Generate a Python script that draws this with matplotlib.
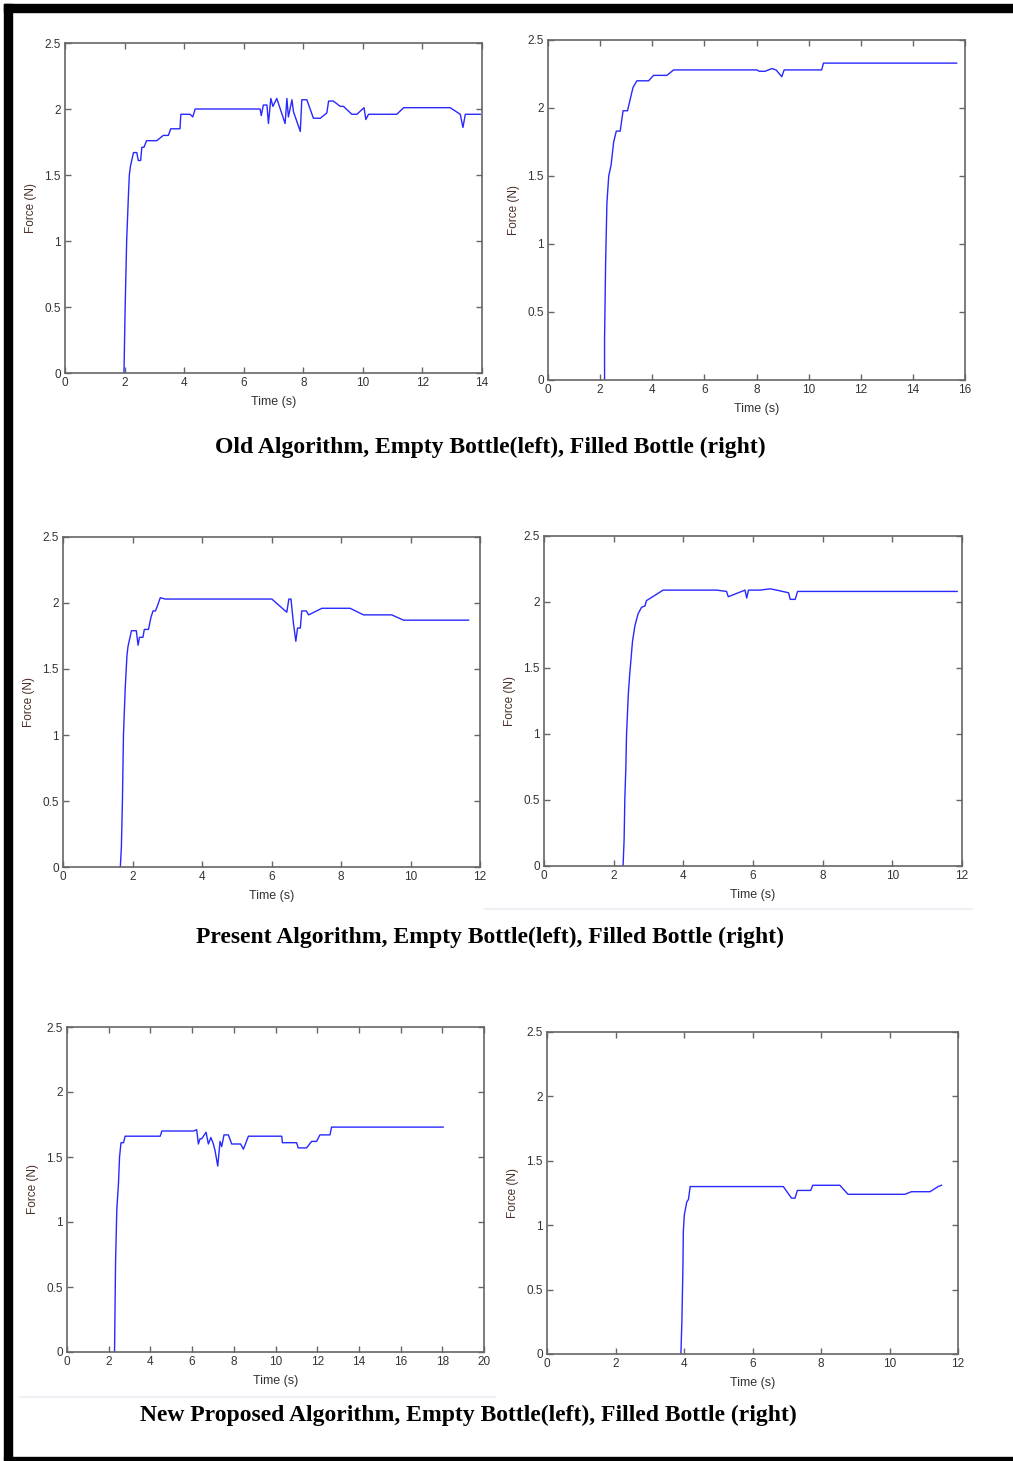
import matplotlib
matplotlib.use("Agg")
import matplotlib.pyplot as plt
from matplotlib.patches import Rectangle
from matplotlib.lines import Line2D

# force traces (time in s, force in N)
old_empty_t = [1.98, 2.02, 2.07, 2.13, 2.16, 2.2, 2.3, 2.41, 2.46, 2.54, 2.58, 2.65, 2.74,
               3.08, 3.3, 3.47, 3.55, 3.86, 3.89, 4.2, 4.29, 4.37, 6.55, 6.59, 6.66, 6.78,
               6.83, 6.91, 6.98, 7.11, 7.39, 7.45, 7.5, 7.62, 7.67, 7.9, 7.95, 8.12, 8.34,
               8.57, 8.79, 8.85, 9.01, 9.24, 9.35, 9.63, 9.8, 10.04, 10.1, 10.19, 11.14,
               11.37, 12.93, 13.27, 13.36, 13.44, 13.94]
old_empty_f = [0.0, 0.5, 1.0, 1.35, 1.5, 1.57, 1.67, 1.67, 1.61, 1.61, 1.71, 1.71, 1.76,
               1.76, 1.8, 1.8, 1.85, 1.85, 1.96, 1.96, 1.94, 2.0, 2.0, 1.95, 2.03, 2.03,
               1.89, 2.08, 2.02, 2.08, 1.89, 2.08, 1.94, 2.07, 1.98, 1.83, 2.07, 2.07, 1.93,
               1.93, 1.97, 2.06, 2.06, 2.02, 2.02, 1.96, 1.96, 2.01, 1.92, 1.96, 1.96,
               2.01, 2.01, 1.96, 1.86, 1.96, 1.96]

old_filled_t = [2.17, 2.17, 2.21, 2.26, 2.33, 2.42, 2.52, 2.62, 2.77, 2.88, 3.05, 3.26, 3.41,
                3.86, 4.05, 4.56, 4.82, 8.01, 8.11, 8.33, 8.59, 8.75, 8.97, 9.06, 10.5,
                10.57, 15.68]
old_filled_f = [0.0, 0.3, 0.85, 1.3, 1.5, 1.58, 1.75, 1.83, 1.83, 1.98, 1.98, 2.15, 2.2,
                2.2, 2.24, 2.24, 2.28, 2.28, 2.27, 2.27, 2.29, 2.28, 2.23, 2.28, 2.28,
                2.33, 2.33]

present_empty_t = [1.65, 1.68, 1.71, 1.74, 1.79, 1.84, 1.87, 1.97, 2.11, 2.16, 2.2, 2.3,
                   2.34, 2.46, 2.53, 2.59, 2.66, 2.72, 2.8, 2.94, 6.01, 6.44, 6.5, 6.56,
                   6.63, 6.7, 6.75, 6.83, 6.87, 7.0, 7.07, 7.45, 8.26, 8.65, 9.46, 9.8, 11.67]
present_empty_f = [0.0, 0.15, 0.5, 1.0, 1.35, 1.6, 1.67, 1.79, 1.79, 1.68, 1.74, 1.74,
                   1.8, 1.8, 1.89, 1.94, 1.94, 1.98, 2.04, 2.03, 2.03, 1.93, 2.03, 2.03,
                   1.85, 1.71, 1.81, 1.81, 1.94, 1.94, 1.91, 1.96, 1.96, 1.91, 1.91, 1.87, 1.87]

present_filled_t = [2.27, 2.3, 2.32, 2.35, 2.37, 2.42, 2.46, 2.54, 2.61, 2.7, 2.8, 2.9, 2.94,
                    3.42, 4.96, 5.24, 5.29, 5.77, 5.82, 5.87, 6.2, 6.49, 6.68, 7.02, 7.07,
                    7.21, 7.28, 11.86]
present_filled_f = [0.0, 0.2, 0.5, 0.75, 1.0, 1.3, 1.45, 1.7, 1.82, 1.91, 1.96, 1.97, 2.01,
                    2.09, 2.09, 2.08, 2.04, 2.09, 2.03, 2.09, 2.09, 2.1, 2.09, 2.07, 2.02,
                    2.02, 2.08, 2.08]

new_empty_t = [2.28, 2.33, 2.39, 2.47, 2.52, 2.59, 2.71, 2.79, 4.47, 4.55, 6.07, 6.22, 6.3,
               6.38, 6.46, 6.67, 6.78, 6.9, 7.02, 7.1, 7.23, 7.34, 7.42, 7.53, 7.74, 7.9,
               8.33, 8.46, 8.7, 10.3, 10.33, 11.01, 11.09, 11.49, 11.73, 11.97, 12.13,
               12.61, 12.69, 18.04]
new_empty_f = [0.0, 0.7, 1.1, 1.3, 1.5, 1.61, 1.61, 1.66, 1.66, 1.7, 1.7, 1.71, 1.6, 1.64,
               1.64, 1.69, 1.6, 1.65, 1.6, 1.55, 1.43, 1.62, 1.58, 1.67, 1.67, 1.6, 1.6,
               1.56, 1.66, 1.66, 1.61, 1.61, 1.57, 1.57, 1.62, 1.62, 1.67, 1.67, 1.73, 1.73]

new_filled_t = [3.91, 3.94, 3.97, 3.98, 4.01, 4.08, 4.13, 4.18, 6.9, 7.14, 7.24, 7.31, 7.7,
                7.76, 8.55, 8.79, 10.45, 10.64, 11.18, 11.42, 11.52]
new_filled_f = [0.0, 0.27, 0.7, 0.95, 1.08, 1.18, 1.2, 1.3, 1.3, 1.21, 1.21, 1.27, 1.27,
                1.31, 1.31, 1.24, 1.24, 1.26, 1.26, 1.3, 1.31]

x_limits = [14, 16, 12, 12, 20, 12]
captions = ["Old Algorithm, Empty Bottle(left), Filled Bottle (right)",
            "Present Algorithm, Empty Bottle(left), Filled Bottle (right)",
            "New Proposed Algorithm, Empty Bottle(left), Filled Bottle (right)"]

W, H = 1013, 1461
fig = plt.figure(figsize=(W / 100, H / 100), dpi=100)
fig.patch.set_facecolor("white")

# axes boxes in pixels: left, right, top, bottom
boxes = [(65, 482, 43, 373), (548, 965, 40, 380),
         (63, 480, 537, 867), (544, 962, 536, 866),
         (67, 484, 1027, 1352), (547, 958, 1032, 1354)]
series = [(old_empty_t, old_empty_f), (old_filled_t, old_filled_f),
          (present_empty_t, present_empty_f), (present_filled_t, present_filled_f),
          (new_empty_t, new_empty_f), (new_filled_t, new_filled_f)]

spine_col = "#666666"
txt_col = "#333333"
for i, ((l, r, t, b), (tt, ff)) in enumerate(zip(boxes, series)):
    ax = fig.add_axes([l / W, 1 - b / H, (r - l) / W, (b - t) / H])
    ax.plot(tt, ff, color="#2828ff", lw=1.0)
    ax.set_xlim(0, x_limits[i])
    ax.set_ylim(0, 2.5)
    ax.set_xticks(range(0, x_limits[i] + 1, 2))
    ax.set_yticks([0, 0.5, 1, 1.5, 2, 2.5])
    ax.set_yticklabels(["0", "0.5", "1", "1.5", "2", "2.5"])
    ax.tick_params(direction="in", length=4, width=1, color=spine_col,
                   top=True, right=True, labelsize=8.5, labelcolor=txt_col, pad=3)
    for s in ax.spines.values():
        s.set_color(spine_col)
        s.set_linewidth(1.2)
    ax.set_xlabel("Time (s)", fontsize=9, color=txt_col, labelpad=5,
                  family="Liberation Sans")
    ax.set_ylabel("Force (N)", fontsize=8.5, color="#4a3028", labelpad=5,
                  family="Liberation Sans")
    for lab in ax.get_xticklabels() + ax.get_yticklabels():
        lab.set_family("Liberation Sans")

caption_pos = [(490, 447), (490, 937), (468, 1415)]
for (cx, cy), txt in zip(caption_pos, captions):
    fig.text(cx / W, 1 - cy / H, txt, ha="center", va="center",
             family="Liberation Serif", fontweight="bold", fontsize=17, color="black")

# faint separator lines left over in the original
fig.add_artist(Line2D([485 / W, 972 / W], [1 - 909 / H, 1 - 909 / H],
                      color="#eef0f5", lw=1.5, transform=fig.transFigure))
fig.add_artist(Line2D([20 / W, 495 / W], [1 - 1397 / H, 1 - 1397 / H],
                      color="#eef0f5", lw=1.5, transform=fig.transFigure))

# black frame on top, left and bottom
fig.add_artist(Rectangle((4 / W, 1 - 12 / H), (W - 4) / W, 8 / H,
                         color="black", transform=fig.transFigure))
fig.add_artist(Rectangle((4 / W, 1 - 1460 / H), 8 / W, 1456 / H,
                         color="black", transform=fig.transFigure))
fig.add_artist(Rectangle((4 / W, 1 - 1460 / H), (W - 4) / W, 3 / H,
                         color="black", transform=fig.transFigure))

fig.savefig("out.png", dpi=100)
